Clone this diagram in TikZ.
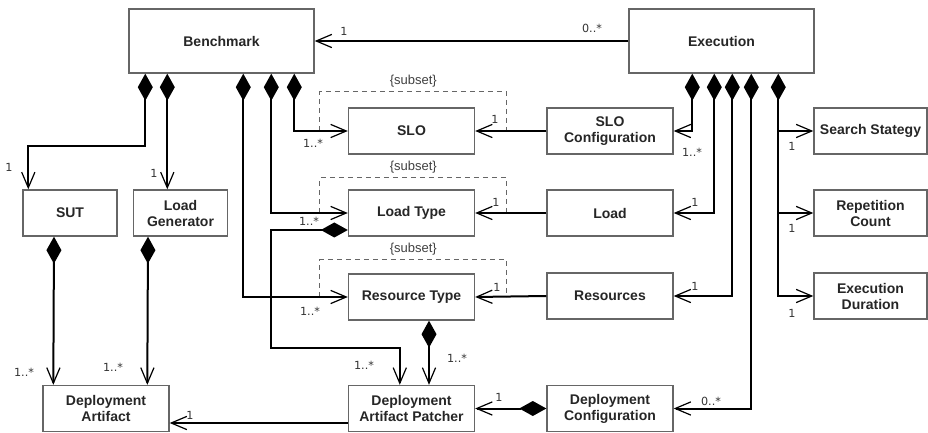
\documentclass[tikz,border=0pt]{standalone}
\usepackage{fontspec}
\setmainfont{Liberation Sans}
\newfontfamily\multfont{DejaVu Sans}
\usetikzlibrary{arrows.meta,calc}

\begin{document}
\begin{tikzpicture}[x=0.5pt, y=-0.5pt, line width=1pt, >={Straight Barb[length=7.8pt,width=6.6pt,line width=0.6pt]}]
\tikzstyle{box}=[draw=black!60, line width=0.7pt, fill=white, inner sep=0pt, minimum width=63pt, minimum height=23pt, align=center, text=black!85, font=\fontsize{7}{8}\selectfont\bfseries]
\tikzstyle{bigbox}=[minimum width=92.5pt, minimum height=32pt]
\tikzstyle{sutbox}=[minimum width=47pt]
\tikzstyle{sidebox}=[minimum width=56.5pt]
\tikzstyle{mult}=[inner sep=0pt, text=black!80, font=\fontsize{5.6}{6}\selectfont\multfont]
\tikzstyle{setlabel}=[inner sep=0pt, text=black!75, font=\fontsize{6.5}{7}\selectfont]
\tikzstyle{assoc}=[->]
\tikzstyle{comp}=[{Diamond[length=13.5pt,width=7.5pt]}->]
\tikzstyle{subsetline}=[draw=black!60, line width=0.5pt, dash pattern=on 2.5pt off 2pt]

\useasboundingbox (0,0) rectangle (928,433);

\node[box, bigbox]	(bench)		at (221.5,41)	{Benchmark};
\node[box, bigbox]	(exec)		at (721.5,41)	{Execution};
\node[box, sutbox]	(sut)		at (70,213)	{SUT};
\node[box, sutbox]	(loadgen)	at (180.5,213)	{Load\\Generator};
\node[box]		(slo)		at (411.5,131)	{SLO};
\node[box]		(loadtype)	at (411.5,213)	{Load Type};
\node[box]		(restype)	at (411.5,297)	{Resource Type};
\node[box]		(patcher)	at (411.5,408.5)	{Deployment\\Artifact Patcher};
\node[box]		(artifact)	at (106,408.5)	{Deployment\\Artifact};
\node[box]		(sloconf)	at (610,131)	{SLO\\Configuration};
\node[box]		(load)		at (610,213)	{Load};
\node[box]		(resources)	at (610,296)	{Resources};
\node[box]		(depconf)	at (610,408.5)	{Deployment\\Configuration};
\node[box, sidebox]	(search)	at (870.5,131)	{Search Stategy};
\node[box, sidebox]	(rep)		at (870.5,213)	{Repetition\\Count};
\node[box, sidebox]	(dur)		at (870.5,296)	{Execution\\Duration};

\coordinate (b1) at ($(bench.south west)+(17,0)$);
\coordinate (b2) at ($(bench.south west)+(39,0)$);
\coordinate (b3) at ($(bench.south west)+(115,0)$);
\coordinate (b4) at ($(bench.south west)+(143,0)$);
\coordinate (b5) at ($(bench.south west)+(166,0)$);
\coordinate (e1) at ($(exec.south west)+(64,0)$);
\coordinate (e2) at ($(exec.south west)+(86,0)$);
\coordinate (e3) at ($(exec.south west)+(104,0)$);
\coordinate (e4) at ($(exec.south west)+(123,0)$);
\coordinate (e5) at ($(exec.south west)+(150,0)$);
\coordinate (p1) at ($(patcher.west)+(0,14.5)$);

\draw[subsetline] ($(slo.west)+(-28,0)$) -- ++(0,-39) -- ++(187,0) node[midway, yshift=5.5pt, setlabel] (s1) {\{subset\}} -- ++(0,39);
\draw[subsetline] ($(loadtype.west)+(-28,0)$) -- ++(0,-35) -- ++(187,0) node[midway, yshift=5.5pt, setlabel] (s2) {\{subset\}} -- ++(0,35);
\draw[subsetline] ($(restype.west)+(-28,0)$) -- ++(0,-37) -- ++(187,0) node[midway, yshift=5.5pt, setlabel] (s3) {\{subset\}} -- ++(0,37);

\draw[assoc]	(exec.west) -- (bench.east);
\draw[comp]	(b1) -- ++(0,72) -| ($(sut.north west)+(6,0)$);
\draw[comp]	(b2) -- (b2 |- loadgen.north);
\draw[comp]	(b5) |- (slo.west);
\draw[comp]	(b4) |- (loadtype.west);
\draw[comp]	(b3) |- (restype.west);
\draw[comp]	($(loadtype.west)+(0,17)$) -| ($(b4)+(0,274)$) -| ($(patcher.north west)+(52,0)$);
\draw[comp]	($(restype.south)+(17.5,0)$) -- ($(patcher.north)+(17.5,0)$);
\draw[assoc]	(sloconf.west) -- (slo.east);
\draw[assoc]	(load.west) -- (loadtype.east);
\draw[assoc]	(resources.west) -- (restype.east);
\draw[comp]	(e1) |- (sloconf.east);
\draw[comp]	(e2) |- (load.east);
\draw[comp]	(e3) |- (resources.east);
\draw[comp]	(e4) |- (depconf.east);
\draw[comp]	(e5) |- (dur.west);
\draw[assoc]	(e5 |- search.west) -- (search.west);
\draw[assoc]	(e5 |- rep.west) -- (rep.west);
\draw[comp]	(depconf.west) -- (patcher.east);
\draw[assoc]	(p1) -- (p1 -| artifact.east);
\draw[comp]	($(sut.south)+(-16,0)$) -- ($(artifact.north west)+(11,0)$);
\draw[comp]	($(loadgen.south)+(-32.5,0)$) -- ($(artifact.north west)+(105,0)$);

\node[mult] (m1)  at (344,31)	{1};
\node[mult] (m2)  at (592,28)	{0..*};
\node[mult] (m3)  at (9,167)	{1};
\node[mult] (m4)  at (154,173)	{1};
\node[mult] (m5)  at (313,143)	{1..*};
\node[mult] (m6)  at (309,221)	{1..*};
\node[mult] (m7)  at (310,311)	{1..*};
\node[mult] (m8)  at (364,365)	{1..*};
\node[mult] (m9)  at (457,358)	{1..*};
\node[mult] (m10) at (495,119)	{1};
\node[mult] (m11) at (496,202)	{1};
\node[mult] (m12) at (497,287)	{1};
\node[mult] (m13) at (692,152)	{1..*};
\node[mult] (m14) at (695,202)	{1};
\node[mult] (m15) at (695,286)	{1};
\node[mult] (m16) at (711,401)	{0..*};
\node[mult] (m17) at (792,146)	{1};
\node[mult] (m18) at (792,228)	{1};
\node[mult] (m19) at (792,313)	{1};
\node[mult] (m20) at (499,397)	{1};
\node[mult] (m21) at (190,415)	{1};
\node[mult] (m22) at (24,372)	{1..*};
\node[mult] (m23) at (113,367)	{1..*};

\end{tikzpicture}
\end{document}
